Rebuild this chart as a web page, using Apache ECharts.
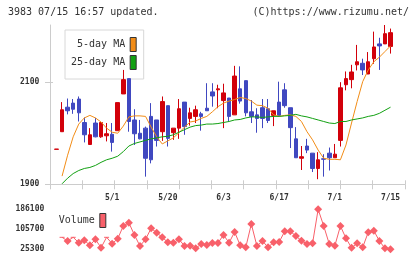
<!DOCTYPE html>
<html>
<head>
<meta charset="utf-8">
<script src="https://cdn.jsdelivr.net/npm/echarts@6/dist/echarts.min.js"></script>
<style>
html, body { margin: 0; padding: 0; background: #fff; }
#main { width: 420px; height: 259px; }
</style>
</head>
<body>
<div id="main"></div>
<script>
// trading days shown on the chart
var dates = ['4/16','4/17','4/20','4/21','4/22','4/23','4/24','4/27','4/28','4/30',
    '5/1','5/7','5/8','5/11','5/12','5/13','5/14','5/15','5/18','5/19','5/20','5/21','5/22','5/25','5/26','5/27','5/28','5/29',
    '6/1','6/2','6/3','6/4','6/5','6/8','6/9','6/10','6/11','6/12','6/15','6/16','6/17','6/18','6/19','6/22','6/23','6/24','6/25','6/26','6/29','6/30',
    '7/1','7/2','7/3','7/6','7/7','7/8','7/9','7/10','7/13','7/14','7/15'];

// [open, close, low, high]
var ohlc = [
    [1968.5, 1969, 1968.5, 1969], [2003, 2046, 2003, 2061], [2051, 2044, 2037, 2068], [2059, 2047, 2038, 2067],
    [2067, 2040, 2023, 2072], [2021, 1997, 1982, 2031], [1978, 1997, 1978, 2010], [2020, 1993, 1992, 2030],
    [1993, 2021, 1991, 2022], [1995, 1999, 1984, 2020], [1998, 1982, 1964, 2020], [2005, 2060, 2005, 2060],
    [2077, 2105, 2077, 2124], [2107, 2023, 2003, 2107], [2026, 1999, 1977, 2047], [2000, 1989, 1988, 2026],
    [2010, 1951, 1915, 2013], [2033, 1948, 1941, 2059], [2026, 1986, 1974, 2026], [2003, 2062, 1985, 2072],
    [2054, 1990, 1974, 2054], [2001, 2010, 1987, 2010], [2010, 2048, 1989, 2067], [2061, 2013, 1997, 2061],
    [2029, 2040, 2015, 2050], [2033, 2046, 2020, 2054], [2038, 2033, 2005, 2042], [2049, 2044, 2044, 2098],
    [2081, 2073, 2052, 2098], [2085, 2087, 2049, 2095], [2064, 2079, 2010, 2097], [2069, 2033, 2023, 2069],
    [2036, 2112, 2036, 2132], [2087, 2063, 2058, 2131], [2103, 2040, 2033, 2103], [2042, 2033, 2020, 2065],
    [2036, 2029, 2001, 2049], [2050, 2029, 2010, 2067], [2048, 2025, 2020, 2067], [2035, 2044, 2014, 2044],
    [2061, 2035, 2035, 2101], [2085, 2054, 2050, 2098], [2050, 2011, 1971, 2050], [1989, 1952, 1952, 2012],
    [1951, 1954, 1928, 1975], [1975, 1967, 1961, 1989], [1961, 1931, 1924, 1961], [1931, 1948, 1910, 1963],
    [1950, 1949, 1915, 1959], [1961, 1952, 1927, 1972], [1952, 1959, 1952, 1979], [1986, 2089, 1974, 2100],
    [2095, 2107, 2084, 2121], [2105, 2120, 2088, 2134], [2134, 2140, 2123, 2173], [2137, 2124, 2114, 2146],
    [2116, 2140, 2116, 2159], [2146, 2169, 2136, 2199], [2175, 2171, 2124, 2187], [2175, 2195, 2175, 2212],
    [2170, 2197, 2156, 2205]
];

var ma5 = [null, 1916, 1957, 1993, 2018, 2030, 2035, 2030, 2022, 2010, 2002, 2000, 2014, 2032, 2034, 2034,
    2033, 2012, 1993, 1979, 1985, 1991, 2001, 2012, 2022, 2024, 2029, 2033, 2042, 2052, 2059, 2063, 2066,
    2070, 2068, 2063, 2055, 2054, 2049, 2036, 2033, 2035, 2036, 2033, 2023, 2003, 1987, 1967, 1951, 1949,
    1949, 1948, 1977, 2020, 2062, 2101, 2124, 2140, 2149, 2160, 2171];

var ma25 = [null, 1901, 1912, 1921, 1927, 1931, 1933, 1937, 1943, 1948, 1951, 1955, 1964, 1975, 1980, 1983,
    1986, 1989, 1991, 1993, 1994, 1997, 2002, 2007, 2012, 2015, 2016, 2018, 2018, 2019, 2021, 2023, 2026,
    2027, 2030, 2032, 2032, 2031, 2032, 2033, 2033, 2034, 2035, 2037, 2034, 2032, 2029, 2026, 2023, 2020,
    2019, 2023, 2023, 2026, 2028, 2030, 2033, 2035, 2039, 2045, 2051];

var volume = [null, 73500, 58700, 73500, 51800, 61500, 41400, 65500, 31700, 73500, 47800, 67900, 119000,
    132200, 82800, 38600, 65500, 109700, 92000, 73500, 53400, 51800, 65500, 38600, 39800, 29300, 46600,
    42600, 50600, 50600, 82800, 51800, 94900, 41400, 33300, 127000, 38600, 58700, 33300, 53400, 54700,
    97700, 97700, 78800, 59900, 46600, 49400, 186100, 119000, 46600, 39800, 119000, 69500, 31700, 49400,
    33300, 93600, 100100, 58700, 29300, 25300];

// days whose volume point is drawn as a short dash instead of a diamond
var dashDays = [1, 3, 9];

var priceTicks = [1900, 2100];
var volumeTicks = [25300, 105700, 186100];

var upColor = '#d2000a';
var downColor = '#4048c0';
var ma5Color = '#f28c16';
var ma25Color = '#12a012';
var volColor = '#f8606a';
var axisGray = '#cccccc';
var mono = 'DejaVu Sans Mono';

var volumeData = volume.map(function (v, i) {
    if (dashDays.indexOf(i) >= 0) {
        return {value: v, symbol: 'rect', symbolSize: [5, 1]};
    }
    return v;
});

var chart = echarts.init(document.getElementById('main'));
var tickLabel = {fontFamily: mono, fontSize: 8, fontWeight: 'bold', color: '#333'};

var option = {
    animation: false,
    title: [
        {
            text: '3983 07/15 16:57 updated.',
            left: 8, top: 7, padding: 0,
            textStyle: {fontFamily: mono, fontSize: 10, fontWeight: 'normal', color: '#333'}
        },
        {
            text: '(C)https://www.rizumu.net/',
            right: 11, top: 7, padding: 0,
            textStyle: {fontFamily: mono, fontSize: 10, fontWeight: 'normal', color: '#333'}
        }
    ],
    legend: [
        {
            data: ['5-day MA', '25-day MA'],
            orient: 'vertical',
            left: 65, top: 30,
            align: 'right',
            icon: 'rect',
            itemWidth: 6, itemHeight: 14, itemGap: 3,
            padding: [7, 7, 9, 6],
            borderColor: '#d8d8d8', borderWidth: 1,
            backgroundColor: '#fff',
            selectedMode: false,
            z: 0,
            itemStyle: {borderColor: '#333', borderWidth: 1},
            textStyle: {fontFamily: mono, fontSize: 10, color: '#333'}
        },
        {
            data: ['Volume'],
            left: 58.7, top: 213,
            align: 'right',
            icon: 'rect',
            itemWidth: 6, itemHeight: 14,
            padding: 0,
            selectedMode: false,
            itemStyle: {borderColor: '#333', borderWidth: 1},
            textStyle: {fontFamily: mono, fontSize: 10, color: '#333'}
        }
    ],
    grid: [
        {left: 50, right: 15, top: 25, bottom: 74.7},
        {left: 53.7, right: 26.7, top: 25, bottom: 74.7},
        {left: 53.7, right: 26.7, top: 209.3, bottom: 9.7}
    ],
    xAxis: [
        {
            gridIndex: 0, type: 'value', min: 0, max: 11, interval: 1, position: 'bottom',
            axisLine: {lineStyle: {color: axisGray}},
            axisTick: {length: 5, lineStyle: {color: axisGray}},
            axisLabel: {show: false},
            splitLine: {show: false}
        },
        {
            gridIndex: 0, type: 'value', min: 0, max: 11, interval: 1, position: 'bottom',
            axisLine: {show: false},
            axisTick: {inside: true, length: 4, lineStyle: {color: axisGray}},
            axisLabel: {show: false},
            splitLine: {show: false}
        },
        {
            gridIndex: 1, type: 'category', data: dates,
            axisLine: {show: false},
            axisTick: {show: false},
            axisLabel: Object.assign({
                margin: 10,
                interval: function (idx) { return idx > 0 && idx % 10 === 0; }
            }, tickLabel),
            splitLine: {show: false}
        },
        {gridIndex: 2, type: 'category', data: dates, show: false}
    ],
    yAxis: [
        {
            gridIndex: 0, type: 'value', min: 1900, max: 2212, position: 'left',
            axisLine: {show: true, lineStyle: {color: axisGray}},
            axisTick: {show: true, length: 5, customValues: priceTicks, lineStyle: {color: axisGray}},
            axisLabel: Object.assign({
                margin: 10.7, customValues: priceTicks,
                formatter: function (v) { return String(v); }
            }, tickLabel),
            splitLine: {show: false}
        },
        {
            gridIndex: 0, type: 'value', min: 1900, max: 2212, position: 'left',
            axisLine: {show: false},
            axisTick: {show: true, inside: true, length: 3, customValues: priceTicks, lineStyle: {color: axisGray}},
            axisLabel: {show: false},
            splitLine: {show: false}
        },
        {gridIndex: 1, type: 'value', min: 1900, max: 2212, show: false, splitLine: {show: false}},
        {
            gridIndex: 2, type: 'value', min: 25300, max: 186100,
            axisLine: {show: false},
            axisTick: {show: false},
            axisLabel: Object.assign({
                margin: 9.4, customValues: volumeTicks,
                formatter: function (v) { return String(v); }
            }, tickLabel),
            splitLine: {show: false}
        }
    ],
    series: [
        {
            name: 'Price', type: 'candlestick',
            xAxisIndex: 2, yAxisIndex: 2,
            barWidth: 4,
            itemStyle: {
                color: upColor, color0: downColor,
                borderColor: upColor, borderColor0: downColor,
                borderWidth: 1
            },
            data: ohlc
        },
        {
            name: '5-day MA', type: 'line',
            xAxisIndex: 2, yAxisIndex: 2,
            symbol: 'none',
            lineStyle: {color: ma5Color, width: 1},
            itemStyle: {color: ma5Color},
            data: ma5
        },
        {
            name: '25-day MA', type: 'line',
            xAxisIndex: 2, yAxisIndex: 2,
            symbol: 'none',
            lineStyle: {color: ma25Color, width: 1},
            itemStyle: {color: ma25Color},
            data: ma25
        },
        {
            name: 'Volume', type: 'line',
            xAxisIndex: 3, yAxisIndex: 3,
            symbol: 'diamond', symbolSize: 8,
            showAllSymbol: true,
            lineStyle: {color: volColor, width: 1},
            itemStyle: {color: volColor},
            data: volumeData
        }
    ]
};
chart.setOption(option);
</script>
</body>
</html>
